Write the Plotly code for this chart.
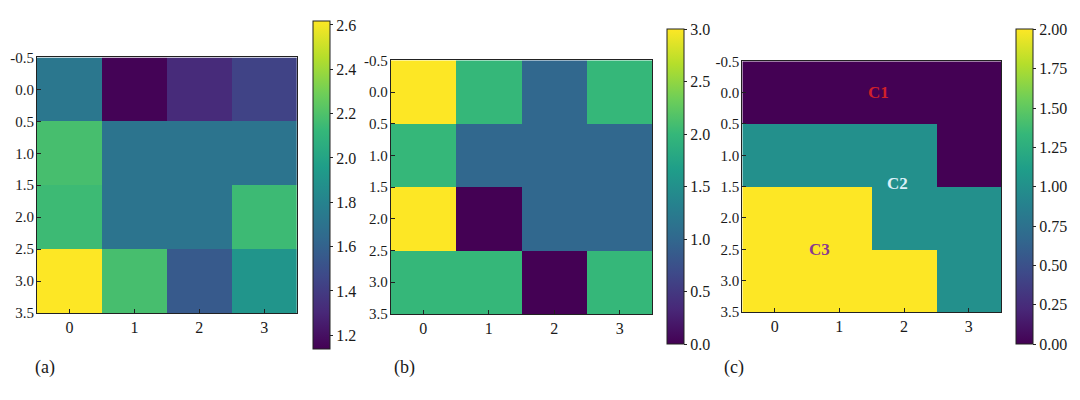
import plotly.graph_objects as go

cols = [0, 1, 2, 3]
rows = [0, 1, 2, 3]
y_ticks = [-0.5, 0.0, 0.5, 1.0, 1.5, 2.0, 2.5, 3.0, 3.5]
y_tick_text = ["-0.5", "0.0", "0.5", "1.0", "1.5", "2.0", "2.5", "3.0", "3.5"]

z_a = [
    [1.73, 1.15, 1.32, 1.44],
    [2.18, 1.71, 1.71, 1.71],
    [2.15, 1.71, 1.71, 2.15],
    [2.62, 2.18, 1.56, 1.91],
]
z_b = [
    [3, 2, 1, 2],
    [2, 1, 1, 1],
    [3, 0, 1, 1],
    [2, 2, 0, 2],
]
z_c = [
    [0, 0, 0, 0],
    [1, 1, 1, 0],
    [2, 2, 1, 1],
    [2, 2, 2, 1],
]
range_a = [1.14, 2.62]
range_b = [0, 3]
range_c = [0, 2]
cb_ticks_a = [1.2, 1.4, 1.6, 1.8, 2.0, 2.2, 2.4, 2.6]
cb_ticks_b = [0.0, 0.5, 1.0, 1.5, 2.0, 2.5, 3.0]
cb_ticks_c = [0.0, 0.25, 0.5, 0.75, 1.0, 1.25, 1.5, 1.75, 2.0]
cb_text_a = ["1.2", "1.4", "1.6", "1.8", "2.0", "2.2", "2.4", "2.6"]
cb_text_b = ["0.0", "0.5", "1.0", "1.5", "2.0", "2.5", "3.0"]
cb_text_c = ["0.00", "0.25", "0.50", "0.75", "1.00", "1.25", "1.50", "1.75", "2.00"]
cluster_labels = ["C1", "C2", "C3"]
cluster_x = [1.6, 1.9, 0.7]
cluster_y = [0.0, 1.45, 2.5]
cluster_colors = ["#d0202a", "#dcf0f8", "#8a3a8e"]
panel_labels = ["(a)", "(b)", "(c)"]

# the page body adds an 8px offset; size the figure to fit the window
OFF = 8
W, H = 1080 - OFF, 400 - OFF
ML, MR, MT, MB = 20, 20, 20, 20
PW, PH = W - ML - MR, H - MT - MB
FONT = "Liberation Serif, Times New Roman, serif"
TXT = "#1a1a1a"

def px_x(p):
    return (p - OFF - ML) / PW

def px_y(p):
    return 1 - (p - OFF - MT) / PH

panels = [
    dict(z=z_a, rng=range_a, ticks=cb_ticks_a, text=cb_text_a,
         dom_x=(37, 297), dom_y=(48, 311), cb_x=313, cb_top=10, cb_bot=348),
    dict(z=z_b, rng=range_b, ticks=cb_ticks_b, text=cb_text_b,
         dom_x=(391, 653), dom_y=(51, 312), cb_x=668, cb_top=19, cb_bot=343),
    dict(z=z_c, rng=range_c, ticks=cb_ticks_c, text=cb_text_c,
         dom_x=(743, 1002), dom_y=(52, 310), cb_x=1017, cb_top=19, cb_bot=343),
]

fig = go.Figure()
layout = {}
for i, p in enumerate(panels):
    n = "" if i == 0 else str(i + 1)
    fig.add_trace(go.Heatmap(
        z=p["z"], x=cols, y=rows,
        colorscale="Viridis", zmin=p["rng"][0], zmax=p["rng"][1],
        xaxis="x" + n, yaxis="y" + n,
        colorbar=dict(
            x=px_x(p["cb_x"]), xanchor="left",
            y=px_y(p["cb_top"]), yanchor="top",
            len=(p["cb_bot"] - p["cb_top"]) / PH, lenmode="fraction",
            thickness=17, thicknessmode="pixels",
            xpad=0, ypad=0,
            outlinewidth=1, outlinecolor="#222",
            tickvals=p["ticks"], ticktext=p["text"],
            ticks="outside", ticklen=3, tickcolor="#222",
            tickfont=dict(family=FONT, size=16, color=TXT),
        ),
    ))
    layout["xaxis" + n] = dict(
        domain=[px_x(p["dom_x"][0]), px_x(p["dom_x"][1])],
        range=[-0.5, 3.5], tickvals=cols, ticktext=[str(c) for c in cols],
        anchor="y" + n, ticks="inside", ticklen=4, tickcolor="#222",
        showline=True, linecolor="#222", linewidth=1, mirror=True,
        showgrid=False, zeroline=False, automargin=False,
        tickfont=dict(family=FONT, size=16, color=TXT),
    )
    layout["yaxis" + n] = dict(
        domain=[px_y(p["dom_y"][1]), px_y(p["dom_y"][0])],
        range=[3.5, -0.5], tickvals=y_ticks, ticktext=y_tick_text,
        anchor="x" + n, ticks="inside", ticklen=4, tickcolor="#222",
        showline=True, linecolor="#222", linewidth=1, mirror=True,
        showgrid=False, zeroline=False, automargin=False,
        ticklabelstandoff=-1,
        tickfont=dict(family=FONT, size=15, color=TXT),
    )

annotations = []
for lab, xv, yv, col in zip(cluster_labels, cluster_x, cluster_y, cluster_colors):
    annotations.append(dict(
        x=xv, y=yv, xref="x3", yref="y3", text="<b>" + lab + "</b>",
        showarrow=False, font=dict(family=FONT, size=17, color=col),
    ))
for lab, xp in zip(panel_labels, [33, 405, 747]):
    annotations.append(dict(
        x=px_x(xp), y=px_y(380), xref="paper", yref="paper", text=lab,
        showarrow=False, font=dict(family=FONT, size=18, color=TXT),
    ))

fig.update_layout(
    template="none",
    width=W, height=H,
    margin=dict(l=ML, r=MR, t=MT, b=MB),
    paper_bgcolor="white", plot_bgcolor="white",
    annotations=annotations,
    showlegend=False,
    **layout,
)

fig.write_html("out.html")
